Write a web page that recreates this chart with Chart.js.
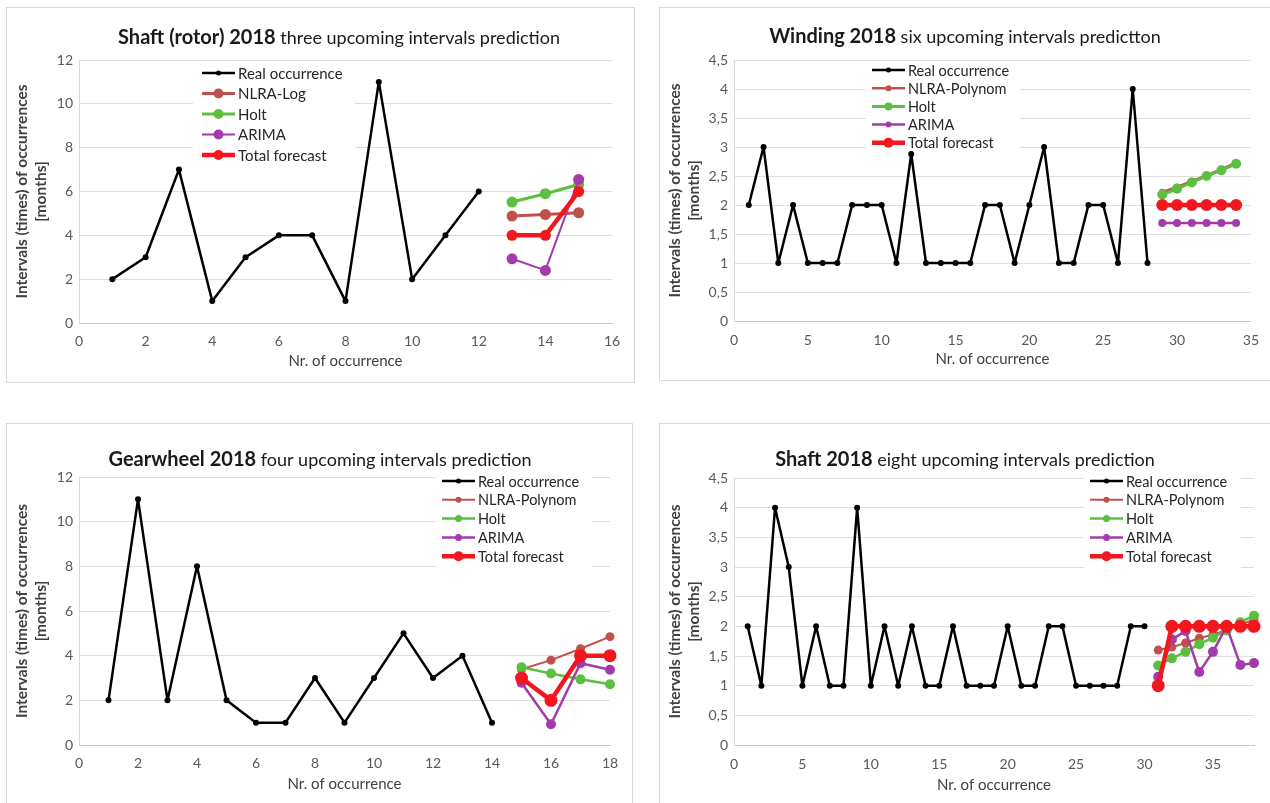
<!DOCTYPE html>
<html>
<head>
<meta charset="utf-8">
<script src="https://cdn.jsdelivr.net/npm/chart.js@4.4.1/dist/chart.umd.min.js"></script>
<style>
  html, body { margin: 0; padding: 0; background: #ffffff; }
  body { width: 1270px; height: 803px; position: relative; overflow: hidden; font-family: Lato, sans-serif; }
  .panel { position: absolute; border: 1px solid #d9d9d9; box-sizing: border-box; }
  canvas { position: absolute; }
</style>
</head>
<body>
<div class="panel" style="left:6px;top:7px;width:629px;height:376px"></div>
<div class="panel" style="left:659px;top:7px;width:630px;height:374px"></div>
<div class="panel" style="left:6px;top:423px;width:627px;height:400px"></div>
<div class="panel" style="left:659px;top:423px;width:630px;height:400px"></div>

<canvas id="rotor" width="629" height="376" style="left:6px;top:7px"></canvas>
<canvas id="winding" width="611" height="374" style="left:659px;top:7px"></canvas>
<canvas id="gearwheel" width="627" height="380" style="left:6px;top:423px"></canvas>
<canvas id="shaft" width="611" height="380" style="left:659px;top:423px"></canvas>

<script>
// ---- Shaft (rotor) 2018 ----
const rotorReal   = [2, 3, 7, 1, 3, 4, 4, 1, 11, 2, 4, 6];
const rotorNlra   = [4.88, 4.95, 5.03];
const rotorHolt   = [5.52, 5.9, 6.32];
const rotorArima  = [2.93, 2.4, 6.55];
const rotorTotal  = [4, 4, 6];
const rotorXTicks = [0, 2, 4, 6, 8, 10, 12, 14, 16];
const rotorYTicks = [0, 2, 4, 6, 8, 10, 12];

// ---- Winding 2018 ----
const windingReal   = [2, 3, 1, 2, 1, 1, 1, 2, 2, 2, 1, 2.88, 1, 1, 1, 1, 2, 2, 1, 2, 3, 1, 1, 2, 2, 1, 4, 1];
const windingNlra   = [2.22, 2.31, 2.41, 2.51, 2.62, 2.73];
const windingHolt   = [2.18, 2.28, 2.39, 2.5, 2.6, 2.71];
const windingArima  = [1.69, 1.69, 1.69, 1.69, 1.69, 1.69];
const windingTotal  = [2, 2, 2, 2, 2, 2];
const windingXTicks = [0, 5, 10, 15, 20, 25, 30, 35];
const windingYTicks = [0, 0.5, 1, 1.5, 2, 2.5, 3, 3.5, 4, 4.5];

// ---- Gearwheel 2018 ----
const gearReal   = [2, 11, 2, 8, 2, 1, 1, 3, 1, 3, 5, 3, 4, 1];
const gearNlra   = [3.39, 3.8, 4.31, 4.85];
const gearHolt   = [3.48, 3.2, 2.94, 2.72];
const gearArima  = [2.79, 0.93, 3.66, 3.37];
const gearTotal  = [3, 2, 4, 4];
const gearXTicks = [0, 2, 4, 6, 8, 10, 12, 14, 16, 18];
const gearYTicks = [0, 2, 4, 6, 8, 10, 12];

// ---- Shaft 2018 ----
const shaftReal   = [2, 1, 4, 3, 1, 2, 1, 1, 4, 1, 2, 1, 2, 1, 1, 2, 1, 1, 1, 2, 1, 1, 2, 2, 1, 1, 1, 1, 2, 2];
const shaftNlra   = [1.6, 1.65, 1.72, 1.8, 1.86, 1.94, 2.03, 2.11];
const shaftHolt   = [1.34, 1.46, 1.57, 1.7, 1.81, 1.93, 2.07, 2.18];
const shaftArima  = [1.15, 1.78, 1.92, 1.23, 1.57, 2.0, 1.35, 1.38];
const shaftTotal  = [1, 2, 2, 2, 2, 2, 2, 2];
const shaftXTicks = [0, 5, 10, 15, 20, 25, 30, 35];
const shaftXMax   = 38;
const shaftYTicks = [0, 0.5, 1, 1.5, 2, 2.5, 3, 3.5, 4, 4.5];

const COLORS = {
  real:  '#000000',
  nlra:  '#C0504D',
  holt:  '#5CBF40',
  arima: '#A23BAC',
  total: '#F2161E'
};
const FONT = 'Lato, "Open Sans", sans-serif';

// occurrence numbers start at `start` and run on consecutively
const pts = (start, vals) => vals.map((v, i) => ({ x: start + i, y: v }));
const comma = v => String(v).replace('.', ',');

// heading (bold lead + regular rest) and the inline legend
const decor = {
  id: 'decor',
  beforeDatasetsDraw(chart, args, o) {
    const b = o.legend.box;
    const ctx = chart.ctx;
    ctx.save();
    ctx.fillStyle = '#ffffff';
    ctx.fillRect(b[0], b[1], b[2] - b[0], b[3] - b[1]);
    ctx.restore();
  },
  afterDraw(chart, args, o) {
    const ctx = chart.ctx;
    const t = o.title;
    ctx.save();
    ctx.textBaseline = 'middle';
    ctx.textAlign = 'left';
    ctx.fillStyle = '#1a1a1a';
    ctx.font = `bold ${t.boldSize}px ${FONT}`;
    const w1 = ctx.measureText(t.bold).width;
    ctx.font = `${t.size}px ${FONT}`;
    const w2 = ctx.measureText(t.rest).width;
    const x0 = t.cx - (w1 + w2) / 2;
    ctx.font = `bold ${t.boldSize}px ${FONT}`;
    ctx.fillText(t.bold, x0, t.cy);
    ctx.font = `${t.size}px ${FONT}`;
    ctx.fillText(t.rest, x0 + w1, t.cy);

    const L = o.legend;
    chart.data.datasets.forEach((ds, i) => {
      const y = L.y + i * L.gap;
      ctx.strokeStyle = ds.borderColor;
      ctx.lineWidth = ds.borderWidth;
      ctx.lineCap = 'butt';
      ctx.beginPath();
      ctx.moveTo(L.x, y);
      ctx.lineTo(L.x + L.len, y);
      ctx.stroke();
      ctx.fillStyle = ds.borderColor;
      ctx.beginPath();
      ctx.arc(L.x + L.len / 2, y, ds.legendRadius, 0, Math.PI * 2);
      ctx.fill();
      ctx.fillStyle = '#262626';
      ctx.font = `${L.size}px ${FONT}`;
      ctx.fillText(ds.label, L.x + L.len + 3, y + 1);
    });
    ctx.restore();
  }
};

function series(label, data, color, s, order) {
  return {
    label, data, order,
    showLine: true,
    borderColor: color,
    backgroundColor: color,
    borderWidth: s[0],
    pointRadius: s[1],
    legendRadius: s[2],
    pointBackgroundColor: color,
    pointBorderWidth: 0,
    borderJoinStyle: 'round',
    borderCapStyle: 'round',
    clip: false
  };
}

function buildChart(id, d, g) {
  const f = d.real.length + 1;
  const st = g.styles;
  const datasets = [
    series('Real occurrence', pts(1, d.real), COLORS.real, st.real, 4),
    series(d.fitName, pts(f, d.nlra), COLORS.nlra, st.nlra, 3),
    series('Holt', pts(f, d.holt), COLORS.holt, st.holt, 2),
    series('ARIMA', pts(f, d.arima), COLORS.arima, st.arima, 1),
    series('Total forecast', pts(f, d.total), COLORS.total, st.total, 0)
  ];
  const tickFont = { family: FONT, size: 14 };
  return new Chart(document.getElementById(id), {
    type: 'scatter',
    data: { datasets },
    options: {
      responsive: false,
      animation: false,
      events: [],
      layout: { padding: { left: 0, right: g.padRight, top: g.padTop, bottom: 0 } },
      plugins: {
        legend: { display: false },
        tooltip: { enabled: false },
        decor: { title: g.title, legend: g.legend }
      },
      scales: {
        x: {
          type: 'linear',
          min: d.xTicks[0],
          max: d.xMax,
          afterBuildTicks: s => { s.ticks = d.xTicks.map(v => ({ value: v })); },
          afterFit: s => { s.height = g.xH; },
          grid: { display: false, drawTicks: false },
          border: { display: true, color: '#c8c8c8', width: 1 },
          ticks: { padding: g.xTickPad, color: '#595959', font: tickFont, maxRotation: 0 },
          title: {
            display: true,
            text: 'Nr. of occurrence',
            color: '#404040',
            font: { family: FONT, size: 15 },
            padding: { top: 0, bottom: g.xTitlePad }
          }
        },
        y: {
          type: 'linear',
          min: d.yTicks[0],
          max: d.yTicks[d.yTicks.length - 1],
          afterBuildTicks: s => { s.ticks = d.yTicks.map(v => ({ value: v })); },
          afterFit: s => { s.width = g.yW; },
          grid: { color: '#dedede', lineWidth: 1, drawTicks: false },
          border: { display: true, color: '#d9d9d9', width: 1 },
          ticks: { padding: 6, color: '#595959', font: tickFont, callback: v => comma(v) },
          title: {
            display: true,
            text: ['Intervals (times) of occurrences', '[months]'],
            color: '#404040',
            font: { family: FONT, size: 15.5, weight: 'bold', lineHeight: 1.25 },
            padding: { top: 6, bottom: 0 }
          }
        }
      }
    },
    plugins: [decor]
  });
}

buildChart('rotor',
  { real: rotorReal, nlra: rotorNlra, holt: rotorHolt, arima: rotorArima, total: rotorTotal,
    fitName: 'NLRA-Log', xTicks: rotorXTicks, xMax: 16, yTicks: rotorYTicks },
  { padTop: 53, yW: 73, padRight: 23, xH: 60, xTickPad: 10, xTitlePad: 13,
    title: { bold: 'Shaft (rotor) 2018', rest: ' three upcoming intervals prediction', boldSize: 20, size: 18, cx: 333, cy: 31 },
    legend: { x: 196, len: 33, y: 66, gap: 20.5, size: 15, box: [187, 57, 349, 158] },
    styles: { real: [2.5, 3, 2.5], nlra: [3, 5.5, 5], holt: [3, 5.5, 5], arima: [2, 5.5, 5], total: [4.5, 5.5, 5] } });

buildChart('winding',
  { real: windingReal, nlra: windingNlra, holt: windingHolt, arima: windingArima, total: windingTotal,
    fitName: 'NLRA-Polynom', xTicks: windingXTicks, xMax: 35, yTicks: windingYTicks },
  { padTop: 53, yW: 75, padRight: 19, xH: 60, xTickPad: 11, xTitlePad: 13,
    title: { bold: 'Winding 2018', rest: ' six upcoming intervals predictton', boldSize: 20, size: 18, cx: 306, cy: 30 },
    legend: { x: 213, len: 33, y: 63, gap: 18.2, size: 14.5, box: [207, 55, 361, 145] },
    styles: { real: [2.5, 3, 2.5], nlra: [2.5, 3.5, 3], holt: [3, 5, 4], arima: [2.5, 4, 3], total: [4.5, 6, 5] } });

buildChart('gearwheel',
  { real: gearReal, nlra: gearNlra, holt: gearHolt, arima: gearArima, total: gearTotal,
    fitName: 'NLRA-Polynom', xTicks: gearXTicks, xMax: 18, yTicks: gearYTicks },
  { padTop: 54, yW: 73, padRight: 23, xH: 58, xTickPad: 10, xTitlePad: 10,
    title: { bold: 'Gearwheel 2018', rest: ' four upcoming intervals prediction', boldSize: 20, size: 18, cx: 314, cy: 37 },
    legend: { x: 436, len: 33, y: 58, gap: 18.8, size: 14.5, box: [430, 47, 586, 145] },
    styles: { real: [2.5, 3, 2.5], nlra: [2, 4.5, 3], holt: [2.5, 5, 3.5], arima: [2.5, 5, 3.5], total: [4.5, 6.5, 5] } });

buildChart('shaft',
  { real: shaftReal, nlra: shaftNlra, holt: shaftHolt, arima: shaftArima, total: shaftTotal,
    fitName: 'NLRA-Polynom', xTicks: shaftXTicks, xMax: shaftXMax, yTicks: shaftYTicks },
  { padTop: 55, yW: 75, padRight: 16, xH: 58, xTickPad: 11, xTitlePad: 9,
    title: { bold: 'Shaft 2018', rest: ' eight upcoming intervals prediction', boldSize: 20, size: 18, cx: 306, cy: 37 },
    legend: { x: 431, len: 33, y: 58, gap: 18.8, size: 14.5, box: [425, 47, 582, 145] },
    styles: { real: [2.5, 3, 2.5], nlra: [2, 4.5, 3], holt: [2.5, 5, 3.5], arima: [2.5, 5, 3.5], total: [4.5, 6.5, 5] } });
</script>
</body>
</html>
